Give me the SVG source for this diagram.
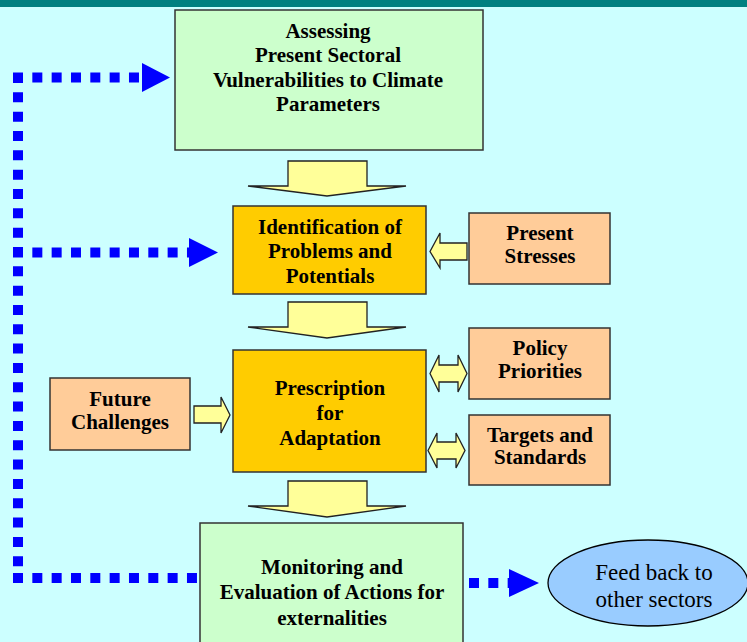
<svg xmlns="http://www.w3.org/2000/svg" width="747" height="642" viewBox="0 0 747 642">
<style>
.box{stroke:#333;stroke-width:1.5}
.green{fill:#CCFFCC}
.gold{fill:#FFCC00}
.peach{fill:#FFCC99}
.blk{fill:#FFFF99;stroke:#222;stroke-width:1.3;stroke-linejoin:miter}
.t{font-family:"Liberation Serif",serif;font-weight:bold;font-size:21px;fill:#000;text-anchor:middle}
.n{font-family:"Liberation Serif",serif;font-size:23px;fill:#000;text-anchor:middle}
.dot{stroke:#0000FF;stroke-width:10;stroke-dasharray:10 9.33;fill:none}
.head{fill:#0000FF}
</style>
<rect x="0" y="0" width="747" height="642" fill="#CCFFFF"/>
<rect x="0" y="0" width="747" height="7" fill="#008080"/>

<g id="connectors">
  <line class="dot" x1="18" y1="73" x2="18" y2="583"/>
  <line class="dot" x1="13" y1="77.5" x2="142" y2="77.5"/>
  <polygon class="head" points="142,63 142,92 170,77.5"/>
  <line class="dot" x1="13" y1="252.5" x2="189" y2="252.5"/>
  <polygon class="head" points="189,238 189,267 218,252.5"/>
  <line class="dot" x1="13" y1="578" x2="200" y2="578"/>
  <line class="dot" x1="469" y1="583" x2="511" y2="583"/>
  <polygon class="head" points="509,569 509,597 539,583"/>
  <polygon class="blk" points="288,161 367,161 367,186 406,186 327,196 248,186 288,186"/>
  <polygon class="blk" points="288,302 367,302 367,327 406,327 327,338 248,327 288,327"/>
  <polygon class="blk" points="288,481 367,481 367,506 406,506 327,517 248,506 288,506"/>
  <polygon class="blk" points="467,243 467,260 440,260 440,268 430,251.5 440,233 440,243"/>
  <polygon class="blk" points="194,406 221,406 221,397 230,415 221,433 221,423 194,423"/>
  <polygon class="blk" points="430,373.5 439,355 439,365 458,365 458,355 467,373.5 458,392 458,382 439,382 439,392"/>
  <polygon class="blk" points="428,450.5 437,433 437,442 456,442 456,433 465,450.5 456,468 456,459 437,459 437,468"/>
</g>

<g id="assessing">
  <rect class="box green" x="175" y="10" width="308" height="140"/>
  <text class="t" x="328" y="38">Assessing</text>
  <text class="t" x="328" y="62">Present Sectoral</text>
  <text class="t" x="328" y="87">Vulnerabilities to Climate</text>
  <text class="t" x="328" y="111">Parameters</text>
</g>
<g id="identification">
  <rect class="box gold" x="233" y="206" width="193" height="88"/>
  <text class="t" x="330" y="234">Identification of</text>
  <text class="t" x="330" y="258">Problems and</text>
  <text class="t" x="330" y="283">Potentials</text>
</g>
<g id="present-stresses">
  <rect class="box peach" x="469" y="213" width="141" height="71"/>
  <text class="t" x="540" y="240">Present</text>
  <text class="t" x="540" y="263">Stresses</text>
</g>
<g id="prescription">
  <rect class="box gold" x="233" y="350" width="193" height="122"/>
  <text class="t" x="330" y="395">Prescription</text>
  <text class="t" x="330" y="420">for</text>
  <text class="t" x="330" y="445">Adaptation</text>
</g>
<g id="policy">
  <rect class="box peach" x="469" y="328" width="141" height="71"/>
  <text class="t" x="540" y="355">Policy</text>
  <text class="t" x="540" y="378">Priorities</text>
</g>
<g id="targets">
  <rect class="box peach" x="469" y="415" width="141" height="70"/>
  <text class="t" x="540" y="442">Targets and</text>
  <text class="t" x="540" y="464">Standards</text>
</g>
<g id="future">
  <rect class="box peach" x="50" y="378" width="140" height="72"/>
  <text class="t" x="120" y="406">Future</text>
  <text class="t" x="120" y="429">Challenges</text>
</g>
<g id="monitoring">
  <rect class="box green" x="200" y="523" width="263" height="125"/>
  <text class="t" x="332" y="574">Monitoring and</text>
  <text class="t" x="332" y="599">Evaluation of Actions for</text>
  <text class="t" x="332" y="625">externalities</text>
</g>
<g id="feedback">
  <ellipse cx="648" cy="583" rx="100" ry="43" fill="#99CCFF" stroke="#000" stroke-width="1.3"/>
  <text class="n" x="654" y="580">Feed back to</text>
  <text class="n" x="654" y="607">other sectors</text>
</g>
</svg>
